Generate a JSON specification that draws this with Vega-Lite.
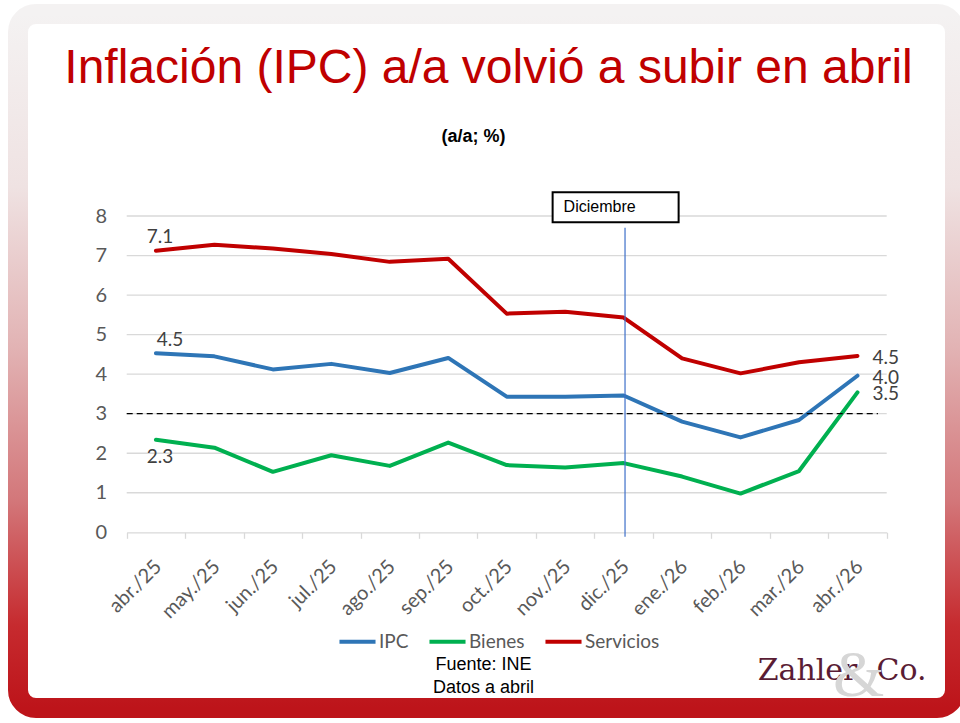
{
  "$schema": "https://vega.github.io/schema/vega-lite/v6.json",
  "width": 937,
  "height": 694,
  "autosize": {"type": "none"},
  "padding": {"left": 18, "top": 14, "right": 5, "bottom": 15},
  "background": "white",
  "view": {
    "fill": "white",
    "stroke": {
      "gradient": "linear", "x1": 0, "y1": 0, "x2": 0, "y2": 1,
      "stops": [
        {"offset": 0, "color": "#f4f2f2"},
        {"offset": 0.25, "color": "#efe2e2"},
        {"offset": 0.48, "color": "#e2b3b4"},
        {"offset": 0.7, "color": "#d3777a"},
        {"offset": 0.88, "color": "#c62b2f"},
        {"offset": 1, "color": "#bd141a"}
      ]
    },
    "strokeWidth": 20,
    "cornerRadius": 18
  },
  "title": {
    "text": "Inflación (IPC) a/a volvió a subir en abril",
    "subtitle": "(a/a; %)\u00a0\u00a0\u00a0\u00a0\u00a0\u00a0\u200b",
    "font": "Liberation Sans",
    "fontSize": 48,
    "fontWeight": "normal",
    "color": "#c00000",
    "subtitleFont": "Liberation Sans",
    "subtitleFontSize": 18,
    "subtitleFontWeight": "bold",
    "subtitleColor": "#000000",
    "anchor": "middle",
    "frame": "group",
    "dx": 2,
    "offset": -132,
    "subtitlePadding": 35
  },
  "datasets": {
    "inflacion": [
      {"mes": "abr./25", "serie": "IPC", "valor": 4.53},
      {"mes": "may./25", "serie": "IPC", "valor": 4.45},
      {"mes": "jun./25", "serie": "IPC", "valor": 4.12},
      {"mes": "jul./25", "serie": "IPC", "valor": 4.26},
      {"mes": "ago./25", "serie": "IPC", "valor": 4.03},
      {"mes": "sep./25", "serie": "IPC", "valor": 4.41},
      {"mes": "oct./25", "serie": "IPC", "valor": 3.43},
      {"mes": "nov./25", "serie": "IPC", "valor": 3.43},
      {"mes": "dic./25", "serie": "IPC", "valor": 3.46},
      {"mes": "ene./26", "serie": "IPC", "valor": 2.8},
      {"mes": "feb./26", "serie": "IPC", "valor": 2.4},
      {"mes": "mar./26", "serie": "IPC", "valor": 2.84},
      {"mes": "abr./26", "serie": "IPC", "valor": 3.96},
      {"mes": "abr./25", "serie": "Bienes", "valor": 2.34},
      {"mes": "may./25", "serie": "Bienes", "valor": 2.14},
      {"mes": "jun./25", "serie": "Bienes", "valor": 1.53},
      {"mes": "jul./25", "serie": "Bienes", "valor": 1.95},
      {"mes": "ago./25", "serie": "Bienes", "valor": 1.68},
      {"mes": "sep./25", "serie": "Bienes", "valor": 2.27},
      {"mes": "oct./25", "serie": "Bienes", "valor": 1.7},
      {"mes": "nov./25", "serie": "Bienes", "valor": 1.64},
      {"mes": "dic./25", "serie": "Bienes", "valor": 1.75},
      {"mes": "ene./26", "serie": "Bienes", "valor": 1.41},
      {"mes": "feb./26", "serie": "Bienes", "valor": 0.98},
      {"mes": "mar./26", "serie": "Bienes", "valor": 1.55},
      {"mes": "abr./26", "serie": "Bienes", "valor": 3.54},
      {"mes": "abr./25", "serie": "Servicios", "valor": 7.12},
      {"mes": "may./25", "serie": "Servicios", "valor": 7.27},
      {"mes": "jun./25", "serie": "Servicios", "valor": 7.18},
      {"mes": "jul./25", "serie": "Servicios", "valor": 7.04},
      {"mes": "ago./25", "serie": "Servicios", "valor": 6.84},
      {"mes": "sep./25", "serie": "Servicios", "valor": 6.92},
      {"mes": "oct./25", "serie": "Servicios", "valor": 5.53},
      {"mes": "nov./25", "serie": "Servicios", "valor": 5.58},
      {"mes": "dic./25", "serie": "Servicios", "valor": 5.43},
      {"mes": "ene./26", "serie": "Servicios", "valor": 4.4},
      {"mes": "feb./26", "serie": "Servicios", "valor": 4.02},
      {"mes": "mar./26", "serie": "Servicios", "valor": 4.3},
      {"mes": "abr./26", "serie": "Servicios", "valor": 4.46}
    ],
    "rejilla": [
      {"nivel": 1}, {"nivel": 2}, {"nivel": 3}, {"nivel": 4},
      {"nivel": 5}, {"nivel": 6}, {"nivel": 7}, {"nivel": 8}
    ],
    "meta": [
      {"desde": "abr./25", "hasta": "abr./26", "meta": 3}
    ],
    "anotacion": [
      {"mes": "dic./25", "etiqueta": "Diciembre", "base": -0.11, "tope": 7.7, "caja": 8.22}
    ]
  },
  "layer": [
    {
      "data": {"name": "rejilla"},
      "mark": {"type": "rule", "color": "#d9d9d9", "strokeWidth": 1.3},
      "encoding": {
        "x": {"datum": "abr./25", "type": "nominal", "bandPosition": 0},
        "x2": {"datum": "abr./26", "bandPosition": 1},
        "y": {"field": "nivel", "type": "quantitative"}
      }
    },
    {
      "data": {"name": "inflacion"},
      "mark": {"type": "line", "strokeWidth": 4, "strokeJoin": "round", "strokeCap": "round"},
      "encoding": {
        "x": {
          "field": "mes",
          "type": "nominal",
          "sort": null,
          "scale": {
            "type": "band",
            "domain": ["abr./25", "may./25", "jun./25", "jul./25", "ago./25", "sep./25", "oct./25", "nov./25", "dic./25", "ene./26", "feb./26", "mar./26", "abr./26"],
            "range": [108.7, 868.7],
            "paddingInner": 0,
            "paddingOuter": 0
          },
          "axis": {
            "title": ["Fuente: INE", "Datos a abril"]
          }
        },
        "y": {
          "field": "valor",
          "type": "quantitative",
          "scale": {"domain": [0, 8], "range": [518.3, 202], "nice": false, "zero": true},
          "axis": {
            "title": "Zahler\u00a0\u00a0Co.",
            "values": [0, 1, 2, 3, 4, 5, 6, 7, 8],
            "format": "d"
          }
        },
        "color": {
          "field": "serie",
          "type": "nominal",
          "scale": {"domain": ["IPC", "Bienes", "Servicios"], "range": ["#2e75b6", "#00b050", "#c00000"]},
          "legend": {
            "title": "&",
            "titleOrient": "right",
            "titleAnchor": "middle",
            "titleBaseline": "line-top",
            "titleLineHeight": 82,
            "titleAlign": "left",
            "titlePadding": 174,
            "titleFont": "Liberation Serif",
            "titleFontSize": 66,
            "titleFontWeight": "normal",
            "titleColor": "#d6d6d6",
            "orient": "none",
            "legendX": 319,
            "legendY": 607,
            "zindex": 0,
            "direction": "horizontal",
            "symbolType": "stroke",
            "symbolSize": 1300,
            "symbolStrokeWidth": 4,
            "labelFont": "Lato",
            "labelFontSize": 19,
            "labelColor": "#595959",
            "labelOffset": 1,
            "columnPadding": 12,
            "padding": 0
          }
        }
      }
    },
    {
      "data": {"name": "meta"},
      "mark": {"type": "rule", "color": "#000000", "strokeWidth": 1.2, "strokeDash": [6, 4]},
      "encoding": {
        "x": {"field": "desde", "type": "nominal", "bandPosition": 0},
        "x2": {"field": "hasta", "bandPosition": 0.85},
        "y": {"field": "meta", "type": "quantitative"}
      }
    },
    {
      "data": {"name": "anotacion"},
      "mark": {"type": "rule", "color": "#3d6fc9", "strokeWidth": 1.2, "xOffset": 1.4},
      "encoding": {
        "x": {"field": "mes", "type": "nominal"},
        "y": {"field": "base", "type": "quantitative"},
        "y2": {"field": "tope"}
      }
    },
    {
      "data": {"name": "anotacion"},
      "mark": {"type": "rect", "width": 126, "height": 30, "fill": "white", "stroke": "#000000", "strokeWidth": 2, "xOffset": -8},
      "encoding": {
        "x": {"field": "mes", "type": "nominal"},
        "y": {"field": "caja", "type": "quantitative"}
      }
    },
    {
      "data": {"name": "anotacion"},
      "mark": {"type": "text", "align": "left", "baseline": "middle", "dx": -60, "font": "Liberation Sans", "fontSize": 16, "color": "#000000"},
      "encoding": {
        "x": {"field": "mes", "type": "nominal"},
        "y": {"field": "caja", "type": "quantitative"},
        "text": {"field": "etiqueta", "type": "nominal"}
      }
    },
    {
      "data": {"name": "inflacion"},
      "transform": [{"filter": "datum.mes === 'abr./25' && datum.serie === 'Servicios'"}],
      "mark": {"type": "text", "align": "center", "baseline": "middle", "dx": 4, "dy": -14, "font": "Lato", "fontSize": 19, "color": "#404040"},
      "encoding": {
        "x": {"field": "mes", "type": "nominal"},
        "y": {"field": "valor", "type": "quantitative"},
        "text": {"field": "valor", "type": "quantitative", "format": ".1f"}
      }
    },
    {
      "data": {"name": "inflacion"},
      "transform": [{"filter": "datum.mes === 'abr./25' && datum.serie === 'IPC'"}],
      "mark": {"type": "text", "align": "center", "baseline": "middle", "dx": 14, "dy": -13, "font": "Lato", "fontSize": 19, "color": "#404040"},
      "encoding": {
        "x": {"field": "mes", "type": "nominal"},
        "y": {"field": "valor", "type": "quantitative"},
        "text": {"field": "valor", "type": "quantitative", "format": ".1f"}
      }
    },
    {
      "data": {"name": "inflacion"},
      "transform": [{"filter": "datum.mes === 'abr./25' && datum.serie === 'Bienes'"}],
      "mark": {"type": "text", "align": "center", "baseline": "middle", "dx": 4, "dy": 17, "font": "Lato", "fontSize": 19, "color": "#404040"},
      "encoding": {
        "x": {"field": "mes", "type": "nominal"},
        "y": {"field": "valor", "type": "quantitative"},
        "text": {"field": "valor", "type": "quantitative", "format": ".1f"}
      }
    },
    {
      "data": {"name": "inflacion"},
      "transform": [{"filter": "datum.mes === 'abr./26'"}],
      "mark": {"type": "text", "align": "left", "baseline": "middle", "dx": 15, "dy": 2, "font": "Lato", "fontSize": 19, "color": "#404040"},
      "encoding": {
        "x": {"field": "mes", "type": "nominal"},
        "y": {"field": "valor", "type": "quantitative"},
        "text": {"field": "valor", "type": "quantitative", "format": ".1f"}
      }
    }
  ],
  "config": {
    "axisX": {
      "offset": -175.7,
      "grid": false,
      "domainColor": "#d9d9d9",
      "domainWidth": 1.3,
      "ticks": true,
      "tickColor": "#d9d9d9",
      "tickWidth": 1.3,
      "tickSize": 6,
      "tickBand": "extent",
      "labelAngle": -45,
      "labelAlign": "right",
      "labelBaseline": "middle",
      "labelFont": "Lato",
      "labelFontSize": 20,
      "labelColor": "#595959",
      "labelPadding": 25,
      "labelOffset": 2,
      "titleFont": "Liberation Sans",
      "titleFontSize": 18,
      "titleFontWeight": "normal",
      "titleColor": "#000000",
      "titleLineHeight": 23,
      "titleAlign": "center",
      "titleBaseline": "alphabetic",
      "titleX": 465,
      "titleY": 137
    },
    "axisY": {
      "offset": -108.7,
      "zindex": 2,
      "domain": false,
      "ticks": false,
      "grid": false,
      "labelFont": "Lato",
      "labelFontSize": 20,
      "labelColor": "#595959",
      "labelPadding": 20,
      "titleFont": "DejaVu Serif",
      "titleFontSize": 30,
      "titleFontWeight": "normal",
      "titleColor": "#5a1c34",
      "titleAngle": 0,
      "titleAlign": "left",
      "titleBaseline": "alphabetic",
      "titleX": 630.5,
      "titleY": 665.3
    }
  }
}
